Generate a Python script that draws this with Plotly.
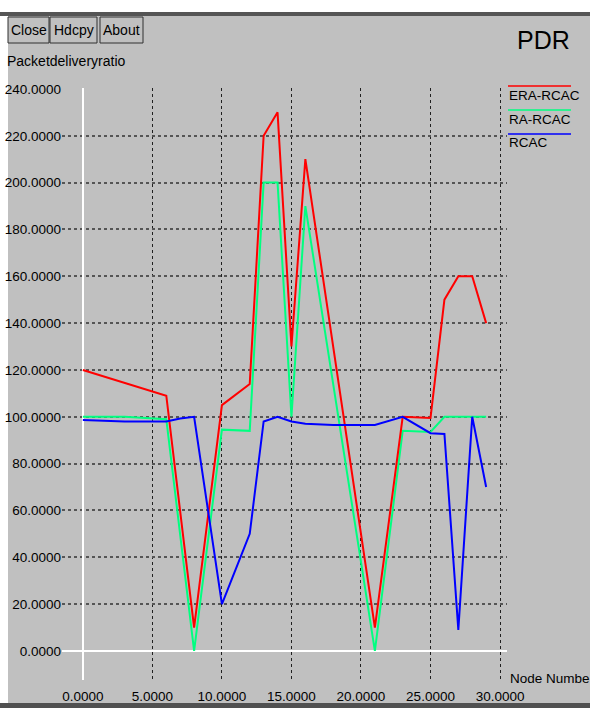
import plotly.graph_objects as go

# Packet delivery ratio per node number for the three schemes
era_x = [0, 6, 8, 10, 12, 13, 14, 15, 16, 21, 23, 25, 26, 27, 28, 29]
era_y = [120, 109, 10, 105, 114, 220, 230, 130, 210, 10, 100, 99.5, 150, 160, 160, 140]

ra_x = [0, 3, 6, 8, 10, 12, 13, 14, 15, 16, 21, 23, 25, 26, 29]
ra_y = [100, 100, 99, 0, 94.5, 94, 200, 200, 100, 190, 0, 94, 93.5, 100, 100]

rcac_x = [0, 3, 6, 7, 8, 10, 12, 13, 14, 15, 16, 18, 21, 23, 25, 26, 27, 28, 29]
rcac_y = [98.6, 98, 98, 99.3, 100, 20, 50, 98, 100, 98, 97, 96.5, 96.5, 100, 93, 92.7, 9, 100, 70]

series_names = ["ERA-RCAC", "RA-RCAC", "RCAC"]
series_colors = ["#ff0000", "#00ff80", "#0000ff"]
buttons = ["Close", "Hdcpy", "About"]

W, H = 590, 708
ML, MR, MT, MB = 62, 83, 88, 28
PW, PH = W - ML - MR, H - MT - MB
FONT = "Liberation Sans, Arial, Helvetica, sans-serif"
GRAY = "#c0c0c0"


def px(x):
    return (x - ML) / PW


def py(y):
    return (H - MB - y) / PH


fig = go.Figure()
# draw order: RA-RCAC below ERA-RCAC, RCAC on top
for xs, ys, idx in [(ra_x, ra_y, 1), (era_x, era_y, 0), (rcac_x, rcac_y, 2)]:
    fig.add_trace(go.Scatter(x=xs, y=ys, mode="lines", name=series_names[idx],
                             line=dict(color=series_colors[idx], width=2),
                             showlegend=False))

shapes = [
    # window panel, title bar edge and bottom edge
    dict(type="rect", xref="paper", yref="paper", x0=px(8), x1=px(W), y0=py(16), y1=py(703),
         fillcolor=GRAY, line=dict(width=0), layer="below"),
    dict(type="rect", xref="paper", yref="paper", x0=px(0), x1=px(W), y0=py(12), y1=py(16),
         fillcolor="#555555", line=dict(width=0), layer="below"),
    dict(type="rect", xref="paper", yref="paper", x0=px(0), x1=px(W), y0=py(703), y1=py(H),
         fillcolor="#505050", line=dict(width=0), layer="below"),
]

annotations = []
# toolbar buttons
btn_edges = [(8, 49), (50, 97), (100, 143)]
for label, (bx0, bx1) in zip(buttons, btn_edges):
    shapes.append(dict(type="rect", xref="paper", yref="paper", x0=px(bx0), x1=px(bx1),
                       y0=py(17), y1=py(43), line=dict(color="#303030", width=1),
                       fillcolor=GRAY, layer="below"))
    annotations.append(dict(text=label, xref="paper", yref="paper", x=px((bx0 + bx1) / 2),
                            y=py(30), xanchor="center", yanchor="middle", showarrow=False,
                            font=dict(family=FONT, size=14, color="#000")))

annotations.append(dict(text="PDR", xref="paper", yref="paper", x=px(543), y=py(40),
                        xanchor="center", yanchor="middle", showarrow=False,
                        font=dict(family=FONT, size=25, color="#000")))
annotations.append(dict(text="Packetdeliveryratio", xref="paper", yref="paper", x=px(5),
                        y=py(61), xanchor="left", yanchor="middle", showarrow=False,
                        font=dict(family=FONT, size=14, color="#000")))
annotations.append(dict(text="Node Numbe", xref="paper", yref="paper", x=px(508),
                        y=py(678), xanchor="left", yanchor="middle", showarrow=False,
                        font=dict(family=FONT, size=13.5, color="#000")))

# legend entries: coloured line above each name
for i, (name, col) in enumerate(zip(series_names, series_colors)):
    ly = 86 + 24 * i
    shapes.append(dict(type="line", xref="paper", yref="paper", x0=px(508), x1=px(571),
                       y0=py(ly), y1=py(ly), line=dict(color=col, width=1.5)))
    annotations.append(dict(text=name, xref="paper", yref="paper", x=px(507), y=py(ly + 9),
                            xanchor="left", yanchor="middle", showarrow=False,
                            font=dict(family=FONT, size=13.5, color="#000")))

fig.update_layout(
    template="none",
    width=W, height=H,
    margin=dict(l=ML, r=MR, t=MT, b=MB, pad=0),
    paper_bgcolor="white",
    plot_bgcolor=GRAY,
    font=dict(family=FONT, size=13.5, color="#000"),
    shapes=shapes,
    annotations=annotations,
    showlegend=False,
    xaxis=dict(range=[-1.5, 30.5], tickmode="linear", tick0=0, dtick=5, tickformat=".4f",
               showgrid=True, gridcolor="#202020", gridwidth=1, griddash="dot",
               zeroline=True, zerolinecolor="white", zerolinewidth=1.5,
               showline=False, ticks="", ticklabelstandoff=6, fixedrange=True),
    yaxis=dict(range=[-12.4, 240.4], tickmode="linear", tick0=0, dtick=20, tickformat=".4f",
               showgrid=True, gridcolor="#555555", gridwidth=1.5, griddash="dot",
               zeroline=True, zerolinecolor="white", zerolinewidth=1.5,
               showline=False, ticks="", fixedrange=True),
)

fig.write_html("out.html")
